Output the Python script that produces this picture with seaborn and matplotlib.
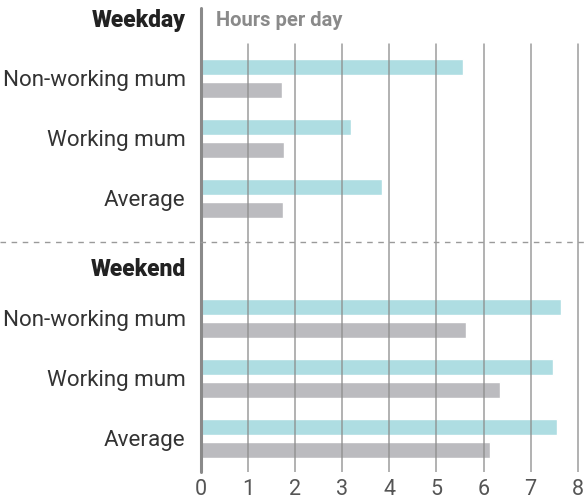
import matplotlib
matplotlib.use("Agg")
import matplotlib.pyplot as plt
from matplotlib.lines import Line2D
import seaborn as sns
import pandas as pd

# ---- data ----
group_names = ["Weekday", "Weekend"]
categories = ["Non-working mum", "Working mum", "Average"]
series_names = ["Series A", "Series B"]
weekday_a = [5.57, 3.19, 3.84]
weekday_b = [1.72, 1.76, 1.74]
weekend_a = [7.65, 7.48, 7.55]
weekend_b = [5.63, 6.36, 6.14]
x_ticks = [0, 1, 2, 3, 4, 5, 6, 7, 8]
axis_title = "Hours per day"

# ---- build table ----
rows = []
order = []
labels = []
for g, a_vals, b_vals in [("Weekday", weekday_a, weekday_b), ("Weekend", weekend_a, weekend_b)]:
    order.append(g)
    labels.append("")
    for c, a, b in zip(categories, a_vals, b_vals):
        key = f"{g}|{c}"
        order.append(key)
        labels.append(c)
        rows.append({"key": key, "series": series_names[0], "hours": a})
        rows.append({"key": key, "series": series_names[1], "hours": b})
df = pd.DataFrame(rows)

TEAL = "#aedde2"
GREY = "#bbbbbf"

sns.set_theme(style="white")
plt.rcParams["font.family"] = ["Roboto", "DejaVu Sans"]

W, H = 586, 503
fig = plt.figure(figsize=(W / 100, H / 100), dpi=100)
left_px, bottom_px = 201, 472
ax = fig.add_axes([left_px / W, 1 - bottom_px / H, 1 - left_px / W, bottom_px / H])

sns.barplot(data=df, y="key", x="hours", hue="series", order=order,
            hue_order=series_names, palette=[TEAL, GREY], width=0.76, gap=0.32,
            saturation=1, legend=False, orient="h", ax=ax, zorder=2)

px_per_slot = 60.0
top_slot_px = 18.4
ax.set_ylim((bottom_px - top_slot_px) / px_per_slot, -top_slot_px / px_per_slot)
ax.set_xlim(0, (W - left_px) / 47.09)

for s in ax.spines.values():
    s.set_visible(False)
ax.set_xlabel("")
ax.set_ylabel("")

# grid lines
grid_top = (bottom_px - 44) / bottom_px
for t in x_ticks[1:]:
    ax.axvline(t, ymin=0, ymax=grid_top, color="#8c8c8c", lw=1.1, alpha=0.85, zorder=3)
ax.axvline(0, ymin=0, ymax=(bottom_px - 8) / bottom_px, color="#8a8a8a", lw=2.2, zorder=4, clip_on=False)

# x ticks
ax.set_xticks(x_ticks)
ax.set_xticklabels([str(t) for t in x_ticks], fontsize=15.5, color="#555555")
ax.tick_params(axis="x", length=0, pad=5)

# y ticks
ax.set_yticks(range(len(order)))
ax.set_yticklabels(labels, fontsize=16.1, color="#333333", fontweight="normal")
ax.tick_params(axis="y", length=0, pad=11)

# group headers
hdr_x = 186 / W
fig.text(hdr_x, 1 - 20 / H, "Weekday", ha="right", va="center", fontsize=16.5,
         fontweight="black", color="#222222")
fig.text(hdr_x, 1 - 270 / H, "Weekend", ha="right", va="center", fontsize=16.5,
         fontweight="black", color="#222222")
fig.text(216 / W, 1 - 20 / H, axis_title, ha="left", va="center", fontsize=14.5,
         fontweight="bold", color="#8a8a8a")

# dashed separator
fig.add_artist(Line2D([0, 1], [1 - 241.7 / H] * 2, transform=fig.transFigure,
                      color="#9a9a9a", lw=1, linestyle=(0, (4, 4))))

fig.savefig("out.png", dpi=100)
